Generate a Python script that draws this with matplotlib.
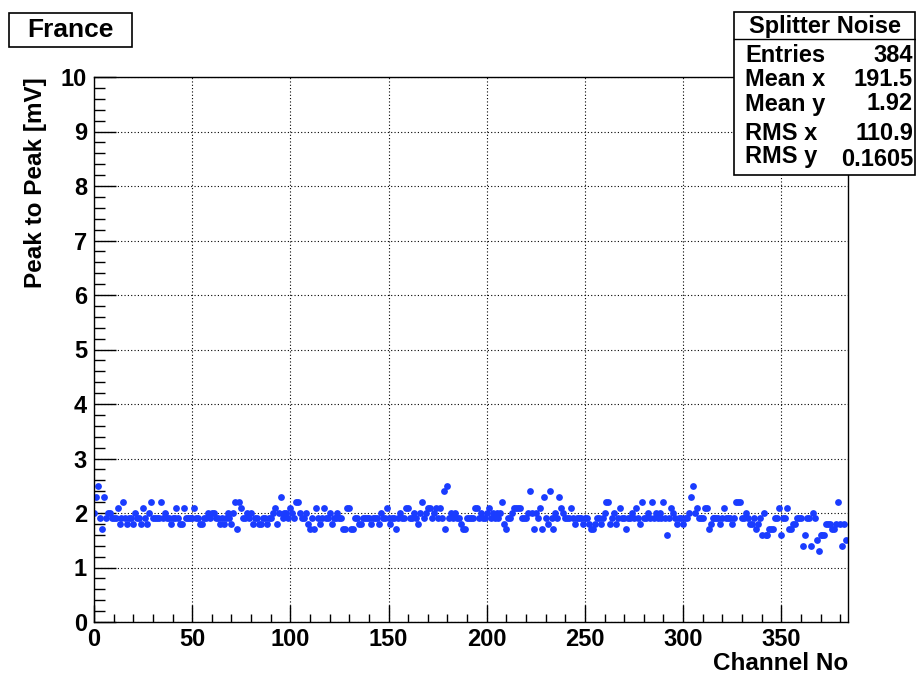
import numpy as np
import matplotlib.pyplot as plt
from matplotlib.patches import Rectangle
from matplotlib.ticker import MultipleLocator

plt.rcParams['font.family'] = ['Liberation Sans', 'DejaVu Sans']
plt.rcParams['font.weight'] = 'bold'

# peak to peak noise per channel (mV), channels 0..383
peak = [
    2.0, 2.3, 2.5, 1.9, 1.7, 2.3, 1.9, 2.0, 2.0, 1.9, 1.9, 1.9, 2.1, 1.8, 1.9, 2.2,
    1.9, 1.8, 1.9, 1.9, 1.8, 2.0, 1.9, 1.9, 1.8, 2.1, 1.9, 1.8, 2.0, 2.2, 1.9, 1.9,
    1.9, 1.9, 2.2, 1.9, 2.0, 1.9, 1.9, 1.8, 1.9, 1.9, 2.1, 1.9, 1.8, 1.8, 2.1, 1.9,
    1.9, 1.9, 1.9, 2.1, 1.9, 1.9, 1.8, 1.8, 1.9, 1.9, 2.0, 1.9, 2.0, 2.0, 1.9, 1.9,
    1.8, 1.9, 1.8, 1.9, 2.0, 1.9, 1.8, 2.0, 2.2, 1.7, 2.2, 2.1, 1.9, 1.9, 2.0, 1.9,
    2.0, 1.8, 1.9, 1.9, 1.8, 1.8, 1.9, 1.9, 1.8, 1.9, 1.9, 2.0, 2.1, 1.8, 2.0, 2.3,
    1.9, 2.0, 2.0, 1.9, 2.1, 2.0, 1.9, 2.2, 2.2, 2.0, 1.9, 1.9, 2.0, 1.8, 1.7, 1.9,
    1.7, 2.1, 1.9, 1.8, 1.9, 2.1, 1.9, 1.9, 2.0, 1.8, 1.9, 1.9, 2.0, 1.9, 1.9, 1.7,
    1.7, 2.1, 2.1, 1.7, 1.7, 1.9, 1.9, 1.8, 1.8, 1.9, 1.9, 1.9, 1.9, 1.8, 1.9, 1.9,
    1.9, 1.8, 2.0, 1.9, 1.9, 2.1, 1.9, 1.8, 1.9, 1.9, 1.7, 1.9, 2.0, 1.9, 1.9, 2.1,
    2.1, 1.9, 1.9, 2.0, 1.9, 1.8, 2.0, 2.2, 1.9, 2.0, 2.1, 2.1, 1.9, 2.0, 2.1, 1.9,
    2.1, 1.9, 2.4, 1.7, 2.5, 1.9, 2.0, 1.9, 2.0, 1.9, 1.9, 1.8, 1.7, 1.7, 1.9, 1.9,
    1.9, 1.9, 2.1, 2.1, 1.9, 2.0, 1.9, 1.9, 2.0, 2.1, 1.9, 2.0, 1.9, 2.0, 1.9, 2.0,
    2.2, 1.8, 1.7, 1.9, 1.9, 2.0, 2.1, 2.1, 2.1, 2.1, 1.9, 1.9, 1.9, 2.0, 2.4, 2.0,
    1.7, 2.0, 1.9, 2.1, 1.7, 2.3, 1.9, 1.8, 2.4, 1.9, 1.7, 2.0, 1.9, 2.3, 2.1, 2.0,
    1.9, 1.9, 1.9, 2.1, 1.9, 1.8, 1.9, 1.9, 1.9, 1.8, 1.9, 1.9, 1.8, 1.7, 1.7, 1.8,
    1.9, 1.9, 1.8, 1.9, 2.0, 2.2, 2.2, 1.8, 1.9, 2.0, 1.8, 1.9, 2.1, 1.9, 1.9, 1.7,
    1.9, 1.9, 2.0, 1.9, 2.1, 1.9, 1.8, 2.2, 1.9, 1.9, 2.0, 1.9, 2.2, 1.9, 2.0, 1.9,
    2.0, 1.9, 2.2, 1.9, 1.6, 1.9, 2.1, 2.0, 1.9, 1.8, 1.9, 1.9, 1.8, 1.9, 1.9, 2.0,
    2.3, 2.5, 2.0, 2.1, 1.9, 1.9, 1.9, 2.1, 2.1, 1.7, 1.8, 1.9, 1.9, 1.9, 1.9, 1.8,
    1.9, 2.1, 1.9, 1.9, 1.9, 1.8, 1.9, 2.2, 2.2, 2.2, 1.9, 1.9, 2.0, 1.9, 1.8, 1.8,
    1.9, 1.7, 1.8, 1.9, 1.6, 2.0, 1.6, 1.6, 1.7, 1.7, 1.7, 1.9, 1.9, 2.1, 1.6, 1.9,
    1.9, 2.1, 1.7, 1.7, 1.8, 1.8, 1.9, 1.9, 1.9, 1.4, 1.6, 1.9, 1.9, 1.4, 2.0, 1.9,
    1.5, 1.3, 1.6, 1.6, 1.6, 1.8, 1.8, 1.8, 1.7, 1.7, 1.8, 2.2, 1.8, 1.4, 1.8, 1.5,
]
channel = np.arange(len(peak))

stat_names = ['Entries', 'Mean x', 'Mean y', 'RMS x', 'RMS y']
stat_vals = ['384', '191.5', '1.92', '110.9', '0.1605']

W, H = 916, 675
fig = plt.figure(figsize=(W / 100, H / 100), dpi=100)
ax = fig.add_axes([94 / W, 1 - 622 / H, (848 - 94) / W, (622 - 77) / H])

ax.plot(channel, peak, 'o', color='#1a3cff', ms=4.9, mec='none')

ax.set_xlim(0, 384)
ax.set_ylim(0, 10)
ax.xaxis.set_major_locator(MultipleLocator(50))
ax.xaxis.set_minor_locator(MultipleLocator(10))
ax.yaxis.set_major_locator(MultipleLocator(1))
ax.yaxis.set_minor_locator(MultipleLocator(0.2))
ax.tick_params(which='both', direction='in', top=False, right=False,
               labelsize=17, width=1, color='black')
ax.tick_params(axis='y', which='major', length=16, pad=5)
ax.tick_params(axis='y', which='minor', length=8)
ax.tick_params(axis='x', which='major', length=12, pad=4)
ax.tick_params(axis='x', which='minor', length=6)
for lab in ax.get_xticklabels() + ax.get_yticklabels():
    lab.set_fontweight('bold')
ax.grid(True, which='major', color='black', linestyle=(0, (1, 2)), linewidth=0.8)
for s in ax.spines.values():
    s.set_linewidth(1.0)

ax.set_xlabel('Channel No', fontsize=17.5, fontweight='bold', loc='right', labelpad=1)
ax.set_ylabel('Peak to Peak [mV]', fontsize=17.5, fontweight='bold', loc='top', labelpad=10)


def fx(px):
    return px / W


def fy(py):
    return 1 - py / H


# title box
fig.patches.append(Rectangle((fx(9), fy(47)), fx(132) - fx(9), fy(13) - fy(47),
                             transform=fig.transFigure, fill=True, fc='white',
                             ec='black', lw=1.2))
fig.text(fx(70), fy(30), 'France', ha='center', va='center', fontsize=19, fontweight='bold')

# stats box
fig.patches.append(Rectangle((fx(734), fy(175)), fx(915) - fx(734), fy(12) - fy(175),
                             transform=fig.transFigure, fill=True, fc='white',
                             ec='black', lw=1.2, zorder=5))
fig.lines.append(plt.Line2D([fx(734), fx(915)], [fy(39), fy(39)],
                            transform=fig.transFigure, color='black', lw=1.0, zorder=6))
fig.text(fx(825), fy(26), 'Splitter Noise', ha='center', va='center',
         fontsize=17, fontweight='bold', zorder=7)
rows_y = [55, 80, 104, 134, 157]
for name, val, ry in zip(stat_names, stat_vals, rows_y):
    fig.text(fx(745), fy(ry), name, ha='left', va='center', fontsize=17,
             fontweight='bold', zorder=7)
    fig.text(fx(913), fy(ry + 3 if name == 'RMS y' else ry), val, ha='right', va='center',
             fontsize=17, fontweight='bold', zorder=7)

fig.savefig('out.png', dpi=100)
